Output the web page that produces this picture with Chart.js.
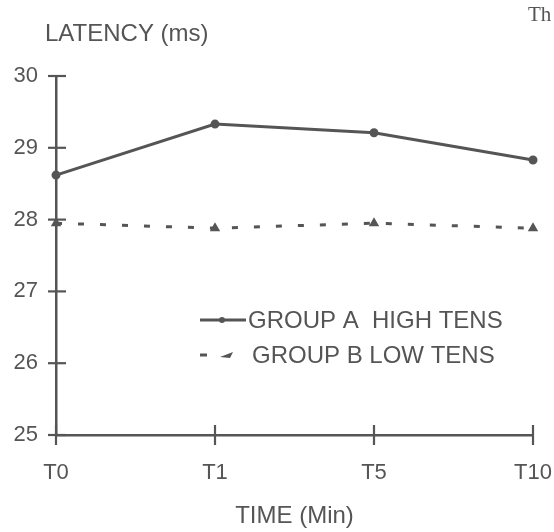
<!DOCTYPE html>
<html>
<head>
<meta charset="utf-8">
<script src="https://cdn.jsdelivr.net/npm/chart.js@4"></script>
<style>
  html, body { margin: 0; padding: 0; background: #fff; overflow: hidden; }
  #wrap { position: relative; width: 554px; height: 532px; overflow: hidden; }
  #corner { position: absolute; left: 528px; top: 2px; font: 21px "Liberation Serif", "DejaVu Serif", serif; color: #555; white-space: nowrap; }
</style>
</head>
<body>
<div id="wrap">
  <canvas id="c" width="554" height="532"></canvas>
  <div id="corner">Th</div>
</div>
<script>
const categories = ["T0", "T1", "T5", "T10"];
const groupA = [28.62, 29.33, 29.21, 28.83];
const groupB = [27.95, 27.88, 27.95, 27.88];
const seriesNames = ["GROUP A  HIGH TENS", "GROUP B LOW TENS"];
const yTicks = [25, 26, 27, 28, 29, 30];
const yTitle = "LATENCY (ms)";
const xTitle = "TIME (Min)";

const INK = "#555555";
const FONT = '"Liberation Sans", Arial, sans-serif';

const crossTicks = {
  id: "crossTicks",
  afterDatasetsDraw(chart) {
    const ctx = chart.ctx;
    const x = chart.scales.x, y = chart.scales.y;
    ctx.save();
    ctx.strokeStyle = INK;
    ctx.lineWidth = 2.2;
    yTicks.forEach(v => {
      const py = y.getPixelForValue(v);
      ctx.beginPath();
      ctx.moveTo(x.left - 8, py);
      ctx.lineTo(x.left + 10, py);
      ctx.stroke();
    });
    categories.forEach((c, i) => {
      const px = x.getPixelForValue(i);
      ctx.beginPath();
      ctx.moveTo(px, y.bottom - 10);
      ctx.lineTo(px, y.bottom + 10);
      ctx.stroke();
    });
    ctx.restore();
  },
  afterDraw(chart) {
    const ctx = chart.ctx;
    ctx.save();
    ctx.fillStyle = INK;
    ctx.textBaseline = "middle";
    ctx.textAlign = "left";
    ctx.font = "24px " + FONT;
    ctx.fillText(yTitle, 45, 34);

    // legend
    const dsA = chart.data.datasets[0], dsB = chart.data.datasets[1];
    const lx = 200;
    ctx.strokeStyle = dsA.borderColor;
    ctx.lineWidth = dsA.borderWidth;
    ctx.setLineDash([]);
    ctx.beginPath(); ctx.moveTo(lx, 320); ctx.lineTo(lx + 46, 320); ctx.stroke();
    ctx.fillStyle = dsA.pointBackgroundColor;
    ctx.beginPath(); ctx.arc(lx + 22, 320, 3, 0, Math.PI * 2); ctx.fill();
    ctx.strokeStyle = dsB.borderColor;
    ctx.lineWidth = dsB.borderWidth;
    ctx.beginPath(); ctx.moveTo(lx, 355); ctx.lineTo(lx + 7, 355); ctx.stroke();
    ctx.fillStyle = dsB.pointBackgroundColor;
    ctx.beginPath(); ctx.moveTo(lx + 20, 357); ctx.lineTo(lx + 33, 352); ctx.lineTo(lx + 30, 358); ctx.closePath(); ctx.fill();

    ctx.fillStyle = INK;
    ctx.font = "24px " + FONT;
    ctx.fillText(seriesNames[0], 248, 321);
    ctx.fillText(seriesNames[1], 252, 356);
    ctx.restore();
  }
};

new Chart(document.getElementById("c"), {
  type: "line",
  data: {
    labels: categories,
    datasets: [
      {
        label: seriesNames[0],
        data: groupA,
        borderColor: INK,
        borderWidth: 3,
        pointRadius: 3,
        pointBackgroundColor: INK,
        pointBorderColor: INK,
        pointStyle: "circle",
        tension: 0,
        fill: false
      },
      {
        label: seriesNames[1],
        data: groupB,
        borderColor: INK,
        borderWidth: 3,
        borderDash: [6, 16],
        pointRadius: 3,
        pointBackgroundColor: INK,
        pointBorderColor: INK,
        pointStyle: "triangle",
        tension: 0,
        fill: false
      }
    ]
  },
  options: {
    responsive: false,
    animation: false,
    devicePixelRatio: 1,
    layout: { padding: { top: 76, right: 21, left: 0, bottom: 0 } },
    plugins: { legend: { display: false }, tooltip: { enabled: false }, title: { display: false } },
    scales: {
      x: {
        type: "category",
        offset: false,
        grid: { display: true, drawOnChartArea: false, drawTicks: true, tickLength: 25, tickColor: "rgba(0,0,0,0)" },
        border: { display: true, color: INK, width: 2.5 },
        ticks: { color: INK, font: { family: FONT, size: 22 }, padding: 0, maxRotation: 0, autoSkip: false },
        title: { display: true, text: xTitle, color: INK, font: { family: FONT, size: 24 }, padding: { top: 0, bottom: 1 } },
        afterFit(s) { s.height = 97; }
      },
      y: {
        min: 25, max: 30,
        grid: { display: true, drawOnChartArea: false, drawTicks: false },
        border: { display: true, color: INK, width: 2.5 },
        ticks: { stepSize: 1, color: INK, font: { family: FONT, size: 22 }, padding: 18 },
        afterBuildTicks(s) { s.ticks = yTicks.map(v => ({ value: v })); },
        afterFit(s) { s.width = 56; }
      }
    }
  },
  plugins: [crossTicks]
});
</script>
</body>
</html>
